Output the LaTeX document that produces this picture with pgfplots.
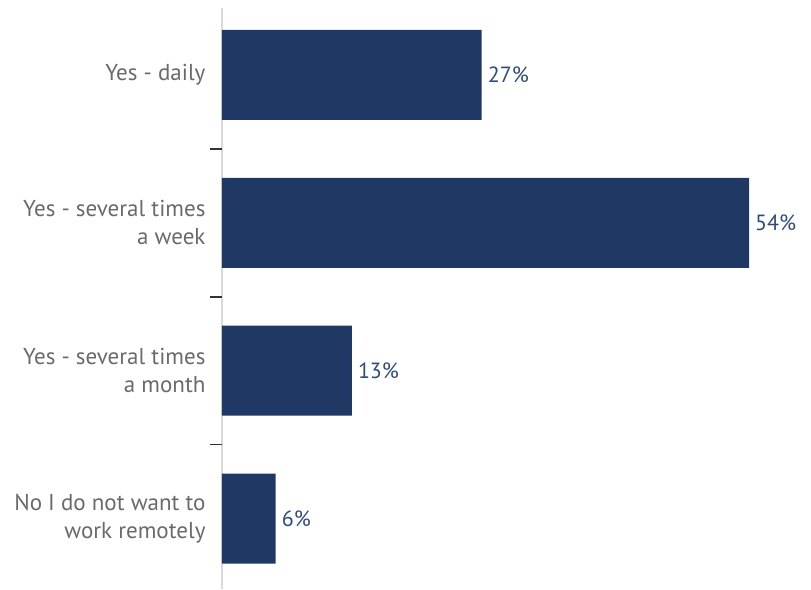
\documentclass[border=0pt]{standalone}
\usepackage{pgfplots}
\pgfplotsset{compat=1.18}
\usepackage{fontspec}
\setmainfont{PT Sans}
\definecolor{barcol}{HTML}{203864}
\definecolor{valcol}{HTML}{2F4A7E}
\definecolor{catcol}{HTML}{6A6A6A}
\definecolor{axcol}{HTML}{D9D9D9}
\begin{document}
\begin{tikzpicture}
\begin{axis}[
  name=ax,
  scale only axis,
  width=589pt, height=581pt,
  xbar, bar width=90pt,
  xmin=0, xmax=60.35,
  y dir=reverse,
  ymin=-0.453, ymax=3.476,
  axis x line=none,
  axis y line=left,
  axis line style={-, axcol, line width=1.5pt},
  ytick={0,1,2,3},
  yticklabels={{Yes - daily},{Yes - several times\\a week},{Yes - several times\\a month},{No I do not want to\\work remotely}},
  yticklabel style={align=right, font=\fontsize{23}{28}\selectfont, text=catcol, xshift=-13pt},
  major tick length=0pt,
  extra y ticks={0.5,1.5,2.5},
  extra y tick labels={},
  extra y tick style={major tick length=12pt, tick align=outside, tick style={black!80, line width=1.6pt}},
  point meta=explicit symbolic,
  nodes near coords={\pgfplotspointmeta\%},
  nodes near coords style={font=\fontsize{22}{24}\selectfont, text=valcol, anchor=west, inner sep=6pt},
  clip=false,
]
\addplot[fill=barcol, draw=none] coordinates {(26.6,0) [27] (54,1) [54] (13.3,2) [13] (5.5,3) [6]};
\end{axis}
\path ([xshift=-222pt]ax.south west) rectangle ([yshift=8pt]ax.north east);
\end{tikzpicture}
\end{document}
